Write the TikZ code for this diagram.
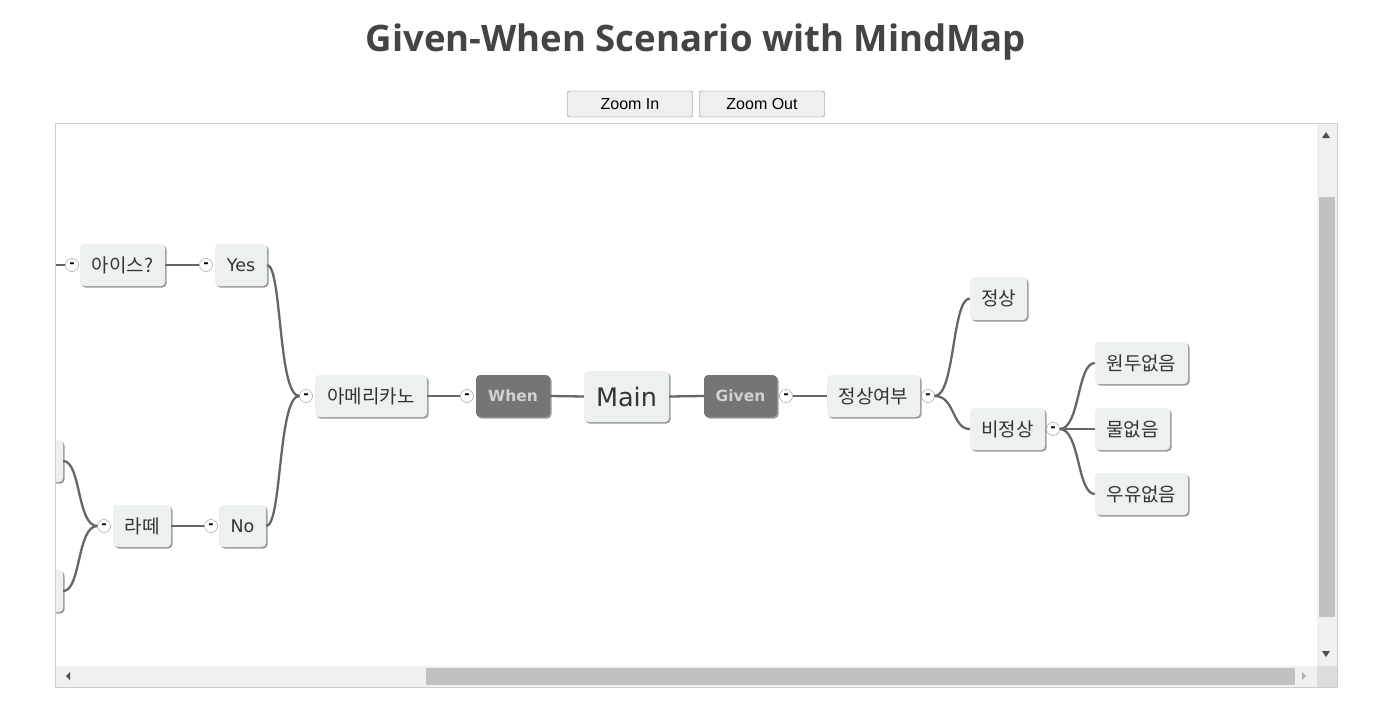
\documentclass[tikz,border=0pt]{standalone}
\usepackage{fontspec}
\setmainfont{DejaVu Sans}
\newfontfamily\kr{Noto Sans CJK KR}
\newfontfamily\titlefont{Open Sans}
\newfontfamily\btnfont{Liberation Sans}
\definecolor{nodefill}{HTML}{ECF0F1}
\definecolor{shadowc}{HTML}{9A9A9A}
\definecolor{txt}{HTML}{333333}
\definecolor{linec}{HTML}{666666}
\definecolor{darkfill}{HTML}{757575}
\definecolor{darktxt}{HTML}{D2D2D2}
\definecolor{titlec}{HTML}{444444}
\definecolor{btnfill}{HTML}{EFEFEF}
\definecolor{btnline}{HTML}{767676}
\definecolor{framec}{HTML}{CCCCCC}
\definecolor{track}{HTML}{F0F0F0}
\definecolor{thumb}{HTML}{C1C1C1}
\definecolor{corner}{HTML}{DCDCDC}
\definecolor{arrowc}{HTML}{505050}
\newcommand{\krt}{\kr\fontsize{19}{21}\selectfont}
\begin{document}
\begin{tikzpicture}[x=1pt,y=-1pt,
  nb/.style={fill=nodefill, rounded corners=4pt, text=txt, inner sep=0pt,
    minimum height=42pt, font=\fontsize{17.5}{19}\selectfont,
    preaction={fill=shadowc, transform canvas={shift={(1.5,1.5)}}}},
  dk/.style={nb, fill=darkfill, text=darktxt, font=\bfseries\fontsize{15.5}{18}\selectfont},
  cb/.style={circle, draw=gray!90, fill=white, minimum size=13pt, inner sep=0pt,
    font=\bfseries\fontsize{13}{13}\selectfont, text=black},
  ln/.style={draw=linec, line width=2.3pt},
  btn/.style={draw=btnline, fill=btnfill, rounded corners=2pt, minimum width=125pt,
    minimum height=26pt, inner sep=0pt, font=\btnfont\fontsize{16}{16}\selectfont, text=black}]
\useasboundingbox[fill=white] (0,0) rectangle (1376,725);

% title and buttons
\node[font=\titlefont\bfseries\fontsize{36.5}{40}\selectfont, text=titlec] (title) at (696,42) {Given-When Scenario with MindMap};
\node[btn] (zin) at (630,104) {Zoom In};
\node[btn] (zout) at (762,104) {Zoom Out};

% viewport frame and scrollbars
\draw[framec] (55.5,123.5) rectangle (1337.5,687.5);
\fill[track] (1317,124) rectangle (1337,666);
\fill[thumb] (1319,197) rectangle (1335,617);
\fill[track] (56,666) rectangle (1317,687);
\fill[thumb] (426,668) rectangle (1295,685);
\fill[corner] (1317,666) rectangle (1337,687);
\fill[arrowc] (1322,138) -- (1330,138) -- (1326,132) -- cycle;
\fill[arrowc] (1322,651) -- (1330,651) -- (1326,657) -- cycle;
\fill[arrowc] (70,672) -- (70,680) -- (66,676) -- cycle;
\fill[gray!60] (1302,672) -- (1302,680) -- (1306,676) -- cycle;

\begin{scope}
\clip (56,124) rectangle (1317,666);
% nodes
\node[nb, minimum width=85pt] (ice) at (122.5,265) {\krt 아이스?};
\node[nb, minimum width=52pt] (yes) at (241,265) {Yes};
\node[nb, minimum width=112pt] (amer) at (371,396) {\krt 아메리카노};
\node[dk, minimum width=74pt] (when) at (513,396) {When};
\node[nb, minimum width=85pt, minimum height=51pt, font=\fontsize{25.5}{28}\selectfont] (main) at (626.5,396.5) {Main};
\node[dk, minimum width=73pt] (given) at (740.5,396) {Given};
\node[nb, minimum width=93pt] (state) at (873.5,396) {\krt 정상여부};
\node[nb, minimum width=57pt, minimum height=43pt] (norm) at (998.5,298.5) {\krt 정상};
\node[nb, minimum width=75pt] (abn) at (1007.5,429) {\krt 비정상};
\node[nb, minimum width=93pt] (bean) at (1141.5,363) {\krt 원두없음};
\node[nb, minimum width=75pt] (water) at (1132.5,429) {\krt 물없음};
\node[nb, minimum width=93pt] (milk) at (1141.5,494) {\krt 우유없음};
\node[nb, minimum width=58pt] (latte) at (142,526) {\krt 라떼};
\node[nb, minimum width=47pt] (no) at (242.5,526) {No};
\node[nb, minimum width=40pt] (p1) at (43,461) {};
\node[nb, minimum width=40pt] (p2) at (43,591) {};
% expander circles
\node[cb] (cice) at (72,265) {-};
\node[cb] (cyes) at (206,265) {-};
\node[cb] (camer) at (306,396) {-};
\node[cb] (cwhen) at (467,396) {-};
\node[cb] (cgiven) at (786,396) {-};
\node[cb] (cstate) at (928,396) {-};
\node[cb] (cabn) at (1053,429) {-};
\node[cb] (clatte) at (104,526) {-};
\node[cb] (cno) at (211,526) {-};
\coordinate (leftend) at (50,265);
% connectors
\draw[ln] (leftend) -- (cice.west);
\draw[ln] (ice.east) -- (cyes.west);
\draw[ln] (camer.west) .. controls (278,396) and (282,266) .. (yes.east);
\draw[ln] (camer.west) .. controls (278,396) and (282,526) .. (no.east);
\draw[ln] (amer.east) -- (cwhen.west);
\draw[ln] (when.east) -- (main.west);
\draw[ln] (main.east) -- (given.west);
\draw[ln] (cgiven.east) -- (state.west);
\draw[ln] (cstate.east) .. controls (955,396) and (952,298.5) .. (norm.west);
\draw[ln] (cstate.east) .. controls (955,396) and (952,429) .. (abn.west);
\draw[ln] (cabn.east) .. controls (1080,429) and (1077,363) .. (bean.west);
\draw[ln] (cabn.east) -- (water.west);
\draw[ln] (cabn.east) .. controls (1080,429) and (1077,494) .. (milk.west);
\draw[ln] (latte.east) -- (cno.west);
\draw[ln] (clatte.west) .. controls (77,526) and (81,461) .. (p1.east);
\draw[ln] (clatte.west) .. controls (77,526) and (81,591) .. (p2.east);
\end{scope}
\end{tikzpicture}
\end{document}
